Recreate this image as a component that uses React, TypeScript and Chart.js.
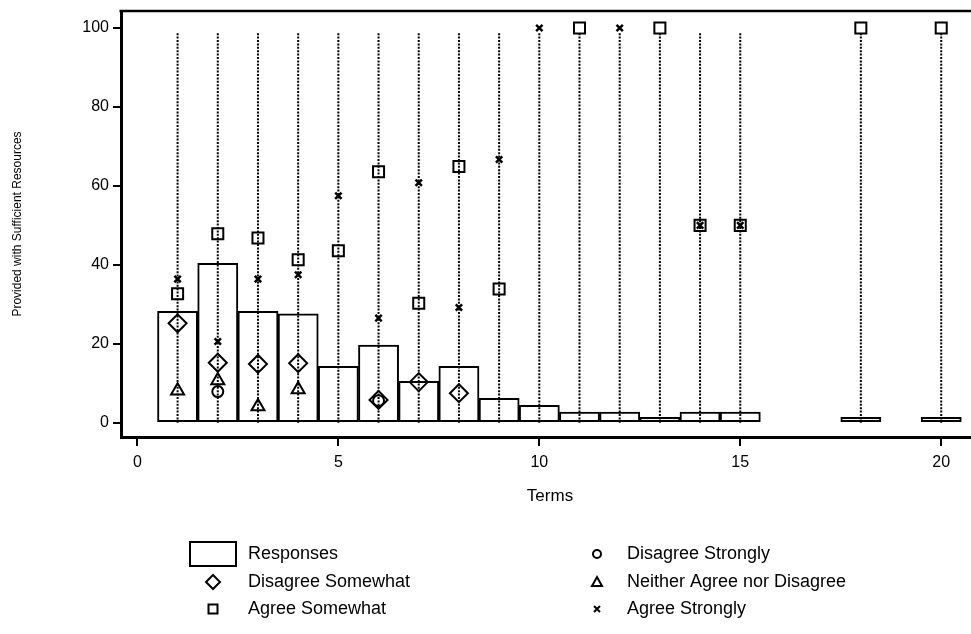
import React, { useEffect, useRef } from "react";
import { Chart, registerables } from "chart.js";

Chart.register(...registerables);

// Terms served (x) and share of responses per term (histogram, %)
const terms = [1, 2, 3, 4, 5, 6, 7, 8, 9, 10, 11, 12, 13, 14, 15, 18, 20];
const responses = [28.2, 40.4, 28.2, 27.6, 14.3, 19.7, 10.5, 14.3, 6.2, 4.4, 2.7, 2.7, 1.4, 2.7, 2.7, 1.4, 1.4];

// Top of the dotted reference spike drawn at every term
const spikeTop = 98.7;

// Answer shares (%) within each term
const disagreeStronglyTerms = [2, 6];
const disagreeStronglyValues = [7.9, 5.6];

const disagreeSomewhatTerms = [1, 2, 3, 4, 6, 7, 8];
const disagreeSomewhatValues = [25.2, 15.2, 14.9, 15.1, 5.8, 10.3, 7.5];

const neitherTerms = [1, 2, 3, 4];
const neitherValues = [8.1, 10.7, 4.1, 8.4];

const agreeSomewhatTerms = [1, 2, 3, 4, 5, 6, 7, 8, 9, 11, 13, 14, 15, 18, 20];
const agreeSomewhatValues = [32.7, 47.9, 46.8, 41.3, 43.6, 63.6, 30.3, 64.9, 33.9, 100, 100, 50, 50, 100, 100];

const agreeStronglyTerms = [1, 2, 3, 4, 5, 6, 7, 8, 9, 10, 12, 14, 15];
const agreeStronglyValues = [36.4, 20.6, 36.4, 37.5, 57.5, 26.5, 60.8, 29.2, 66.7, 100, 100, 50, 50];

const xTickValues = [0, 5, 10, 15, 20];
const yTickValues = [0, 20, 40, 60, 80, 100];

const FONT = "'Liberation Sans', Arial, Helvetica, sans-serif";

const pairs = (xs: number[], ys: number[]) => xs.map((x, i) => ({ x, y: ys[i] }));

const spikeData = terms.flatMap((t) => [
  { x: t, y: 0 },
  { x: t, y: spikeTop },
  { x: t, y: null as any },
]);

type Glyph = "box" | "diamond" | "square" | "circle" | "triangle" | "cross";

const legendItems: { glyph: Glyph; label: string; col: number; row: number }[] = [
  { glyph: "box", label: "Responses", col: 0, row: 0 },
  { glyph: "diamond", label: "Disagree Somewhat", col: 0, row: 1 },
  { glyph: "square", label: "Agree Somewhat", col: 0, row: 2 },
  { glyph: "circle", label: "Disagree Strongly", col: 1, row: 0 },
  { glyph: "triangle", label: "Neither Agree nor Disagree", col: 1, row: 1 },
  { glyph: "cross", label: "Agree Strongly", col: 1, row: 2 },
];

const legendKeyX = [213, 597];
const legendTextX = [248, 627];
const legendRowY = [554, 582, 609];

function drawGlyph(ctx: CanvasRenderingContext2D, g: Glyph, x: number, y: number) {
  ctx.save();
  ctx.strokeStyle = "#000";
  ctx.fillStyle = "#fff";
  ctx.lineWidth = 2;
  ctx.beginPath();
  if (g === "box") {
    ctx.rect(x - 23, y - 12, 46, 24);
    ctx.fill();
  } else if (g === "diamond") {
    const r = 7;
    ctx.moveTo(x, y - r);
    ctx.lineTo(x + r, y);
    ctx.lineTo(x, y + r);
    ctx.lineTo(x - r, y);
    ctx.closePath();
  } else if (g === "square") {
    ctx.rect(x - 4.5, y - 4.5, 9, 9);
  } else if (g === "circle") {
    ctx.arc(x, y, 4, 0, Math.PI * 2);
  } else if (g === "triangle") {
    ctx.moveTo(x, y - 5);
    ctx.lineTo(x + 5, y + 4);
    ctx.lineTo(x - 5, y + 4);
    ctx.closePath();
  } else {
    const r = 3;
    ctx.lineWidth = 2;
    ctx.moveTo(x - r, y - r);
    ctx.lineTo(x + r, y + r);
    ctx.moveTo(x + r, y - r);
    ctx.lineTo(x - r, y + r);
  }
  ctx.stroke();
  ctx.restore();
}

const framePlugin = {
  id: "frameAndLegend",
  afterDraw(chart: any) {
    const { ctx, chartArea } = chart;
    ctx.save();
    ctx.strokeStyle = "#000";
    ctx.lineWidth = 2.5;
    ctx.beginPath();
    ctx.moveTo(chartArea.left - 1.5, chartArea.top);
    ctx.lineTo(chartArea.right, chartArea.top);
    ctx.stroke();

    ctx.font = `18px ${FONT}`;
    ctx.fillStyle = "#000";
    ctx.textBaseline = "middle";
    ctx.textAlign = "left";
    for (const it of legendItems) {
      const y = legendRowY[it.row];
      drawGlyph(ctx, it.glyph, legendKeyX[it.col], y);
      ctx.fillText(it.label, legendTextX[it.col], y);
    }
    ctx.restore();
  },
};

export default function App() {
  const ref = useRef<HTMLCanvasElement | null>(null);

  useEffect(() => {
    if (!ref.current) return;
    const markerBase = {
      type: "scatter" as const,
      backgroundColor: "rgba(0,0,0,0)",
      borderColor: "#000",
      pointBorderColor: "#000",
      pointBackgroundColor: "rgba(0,0,0,0)",
      pointBorderWidth: 2,
      showLine: false,
    };
    const chart = new Chart(ref.current, {
      type: "scatter",
      data: {
        datasets: [
          {
            ...markerBase,
            label: "Agree Strongly",
            data: pairs(agreeStronglyTerms, agreeStronglyValues),
            pointStyle: "crossRot",
            pointRadius: 4.5,
            pointBorderWidth: 2.5,
            order: 1,
          },
          {
            ...markerBase,
            label: "Agree Somewhat",
            data: pairs(agreeSomewhatTerms, agreeSomewhatValues),
            pointStyle: "rect",
            pointRadius: 7.8,
            order: 2,
          },
          {
            ...markerBase,
            label: "Neither Agree nor Disagree",
            data: pairs(neitherTerms, neitherValues),
            pointStyle: "triangle",
            pointRadius: 7.5,
            order: 3,
          },
          {
            ...markerBase,
            label: "Disagree Somewhat",
            data: pairs(disagreeSomewhatTerms, disagreeSomewhatValues),
            pointStyle: "rectRot",
            pointRadius: 9,
            order: 4,
          },
          {
            ...markerBase,
            label: "Disagree Strongly",
            data: pairs(disagreeStronglyTerms, disagreeStronglyValues),
            pointStyle: "circle",
            pointRadius: 5.5,
            order: 5,
          },
          {
            type: "line" as const,
            label: "spikes",
            data: spikeData as any,
            borderColor: "#000",
            borderWidth: 2,
            borderDash: [2, 1.4],
            borderCapStyle: "butt",
            pointRadius: 0,
            spanGaps: false,
            fill: false,
            order: 8,
          },
          {
            type: "bar" as const,
            label: "Responses",
            data: pairs(terms, responses) as any,
            backgroundColor: "#fff",
            borderColor: "#000",
            borderWidth: 2,
            borderSkipped: false,
            barPercentage: 1,
            categoryPercentage: 1,
            order: 10,
          },
        ] as any,
      },
      options: {
        animation: false,
        responsive: false,
        events: [],
        layout: { padding: { left: 0, right: 5, top: 11, bottom: 117 } },
        plugins: { legend: { display: false }, tooltip: { enabled: false } },
        scales: {
          x: {
            type: "linear",
            min: -0.408,
            max: 20.94,
            offset: false,
            afterFit: (s: any) => {
              s.height = 80;
              s.paddingLeft = 0;
              s.paddingRight = 0;
            },
            afterBuildTicks: (s: any) => {
              s.ticks = xTickValues.map((v) => ({ value: v }));
            },
            grid: {
              display: true,
              offset: false,
              drawOnChartArea: false,
              drawTicks: true,
              tickLength: 9,
              color: "#000",
              lineWidth: 2,
            },
            border: { display: true, color: "#000", width: 3 },
            ticks: {
              color: "#000",
              font: { family: FONT, size: 16 },
              padding: 7,
              maxRotation: 0,
              autoSkip: false,
            },
            title: {
              display: true,
              text: "Terms",
              color: "#000",
              font: { family: FONT, size: 17 },
              padding: { top: 0, bottom: 10 },
            },
          },
          y: {
            type: "linear",
            min: -3.6,
            max: 104.3,
            afterFit: (s: any) => {
              s.width = 121;
              s.paddingTop = 0;
              s.paddingBottom = 0;
            },
            afterBuildTicks: (s: any) => {
              s.ticks = yTickValues.map((v) => ({ value: v }));
            },
            grid: {
              display: true,
              drawOnChartArea: false,
              drawTicks: true,
              tickLength: 8,
              color: "#000",
              lineWidth: 2,
            },
            border: { display: true, color: "#000", width: 3 },
            ticks: {
              color: "#000",
              font: { family: FONT, size: 16 },
              padding: 4,
              autoSkip: false,
            },
            title: {
              display: true,
              text: "Provided with Sufficient Resources",
              color: "#000",
              font: { family: FONT, size: 12 },
              padding: { top: 10, bottom: 0 },
            },
          },
        },
      },
      plugins: [framePlugin],
    });
    return () => chart.destroy();
  }, []);

  return (
    <div
      style={{
        position: "fixed",
        left: 0,
        top: 0,
        width: 971,
        height: 634,
        overflow: "hidden",
        background: "#fff",
      }}
    >
      <canvas ref={ref} width={990} height={634} style={{ display: "block" }} />
    </div>
  );
}
